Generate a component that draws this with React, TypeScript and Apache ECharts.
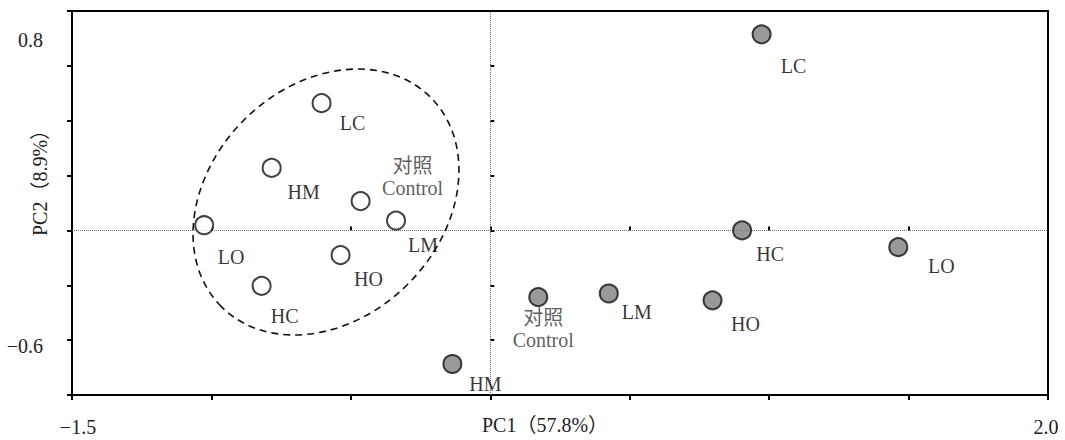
import React, { useEffect, useRef } from "react";
import * as echarts from "echarts";

// Treatment codes (the control sample carries a two-line bilingual label)
const treatmentsA = ["LC", "HM", "对照\nControl", "LM", "LO", "HO", "HC"];
const pc1A = [-0.605, -0.784, -0.465, -0.338, -1.026, -0.537, -0.82];
const pc2A = [0.464, 0.228, 0.107, 0.036, 0.019, -0.09, -0.202];

const treatmentsB = ["LC", "HC", "LO", "HO", "对照\nControl", "LM", "HM"];
const pc1B = [0.973, 0.903, 1.463, 0.797, 0.172, 0.425, -0.136];
const pc2B = [0.715, 0.0, -0.061, -0.255, -0.243, -0.23, -0.487];

// Only the end ticks carry a printed value
const xTickLabels = ["−1.5", "2.0"];
const yTickLabels = ["0.8", "−0.6"];

const xAxisTitle = "PC1（57.8%）";
const yAxisTitle = "PC2（8.9%）";

// Label placement (pixels from the symbol centre)
const offsetsA: number[][] = [
  [31, 20],
  [32, 24],
  [52, -24],
  [27, 24],
  [27, 32],
  [28, 24],
  [23, 30],
];
const offsetsB: number[][] = [
  [32, 32],
  [28, 24],
  [43, 19],
  [33, 24],
  [5, 32],
  [28, 18],
  [33, 20],
];

const FONT = "'Liberation Serif', 'Times New Roman', 'Noto Sans CJK SC', serif";
const FS = 20;

function buildData(names: string[], xs: number[], ys: number[], offs: number[][]) {
  return names.map((n, i) => ({
    name: n,
    value: [xs[i], ys[i]],
    label: {
      offset: offs[i],
      color: n.indexOf("Control") >= 0 ? "#333" : "#000",
    },
  }));
}

export default function App() {
  const ref = useRef<HTMLDivElement>(null);

  useEffect(() => {
    if (!ref.current) return;
    const chart = echarts.init(ref.current, undefined, { renderer: "svg" });

    const axisCommon = {
      axisLine: { show: true, onZero: false, lineStyle: { color: "#000", width: 2 } },
      splitLine: { show: false },
      axisLabel: { show: false },
    };

    const labelStyle = {
      show: true,
      position: "inside",
      formatter: "{b}",
      fontFamily: FONT,
      fontSize: FS,
      lineHeight: 22,
      color: "#000",
      textBorderWidth: 0,
    };

    const tickText = (text: string, x: number, y: number, align: string) => ({
      type: "text",
      x,
      y,
      style: {
        text,
        align,
        verticalAlign: "middle",
        font: `${FS}px ${FONT}`,
        fill: "#222",
      },
    });

    chart.setOption({
      animation: false,
      backgroundColor: "#fff",
      grid: {
        left: 72,
        right: 17,
        top: 11,
        bottom: 43,
        show: true,
        borderColor: "#000",
        borderWidth: 2,
        backgroundColor: "transparent",
      },
      xAxis: [
        {
          type: "value",
          min: -1.5,
          max: 2.0,
          interval: 0.5,
          ...axisCommon,
          axisTick: { show: true, inside: false, length: 5, lineStyle: { color: "#000", width: 2 } },
          name: xAxisTitle,
          nameLocation: "middle",
          nameGap: 20,
          nameTextStyle: {
            fontFamily: FONT,
            fontSize: FS,
            color: "#222",
            padding: [0, 30, 0, 0],
          },
        },
        {
          type: "value",
          position: "bottom",
          min: -1.5,
          max: 2.0,
          interval: 0.5,
          ...axisCommon,
          axisLine: { show: false },
          axisTick: { show: true, inside: true, length: 4, lineStyle: { color: "#000", width: 2 } },
        },
      ],
      yAxis: [
        {
          type: "value",
          min: -0.6,
          max: 0.8,
          interval: 0.2,
          ...axisCommon,
          axisTick: { show: true, inside: false, length: 5, lineStyle: { color: "#000", width: 2 } },
          name: yAxisTitle,
          nameLocation: "middle",
          nameGap: 22,
          nameRotate: 90,
          nameTextStyle: {
            fontFamily: FONT,
            fontSize: FS,
            color: "#222",
            padding: [0, 0, 0, 50],
          },
        },
        {
          type: "value",
          position: "left",
          min: -0.6,
          max: 0.8,
          interval: 0.2,
          ...axisCommon,
          axisLine: { show: false },
          axisTick: { show: true, inside: true, length: 4, lineStyle: { color: "#000", width: 2 } },
        },
      ],
      series: [
        {
          type: "scatter",
          name: "groupA",
          xAxisIndex: 0,
          yAxisIndex: 0,
          symbol: "circle",
          symbolSize: 18,
          itemStyle: { color: "#fff", borderColor: "#111", borderWidth: 2 },
          label: labelStyle,
          data: buildData(treatmentsA, pc1A, pc2A, offsetsA),
          z: 3,
          markLine: {
            silent: true,
            symbol: "none",
            label: { show: false },
            lineStyle: { color: "#666", width: 1, type: [1, 1] },
            data: [{ xAxis: 0 }, { yAxis: 0 }],
            z: 1,
          },
        },
        {
          type: "scatter",
          name: "groupB",
          xAxisIndex: 0,
          yAxisIndex: 0,
          symbol: "circle",
          symbolSize: 18,
          itemStyle: { color: "#808080", borderColor: "#111", borderWidth: 2 },
          label: labelStyle,
          data: buildData(treatmentsB, pc1B, pc2B, offsetsB),
          z: 3,
        },
      ],
      graphic: [
        {
          type: "ellipse",
          x: 326,
          y: 202,
          rotation: Math.PI / 4,
          shape: { cx: 0, cy: 0, rx: 148, ry: 116 },
          style: { fill: "none", stroke: "#111", lineWidth: 1.6, lineDash: [7, 5] },
          silent: true,
          z: 1,
        },
        tickText(yTickLabels[0], 43, 40, "right"),
        tickText(yTickLabels[1], 43, 346, "right"),
        tickText(xTickLabels[0], 78, 427, "center"),
        tickText(xTickLabels[1], 1046, 427, "center"),
      ],
    });

    return () => chart.dispose();
  }, []);

  return (
    <div
      ref={ref}
      style={{ position: "fixed", left: 0, top: 0, width: 1065, height: 440, background: "#fff" }}
    />
  );
}
